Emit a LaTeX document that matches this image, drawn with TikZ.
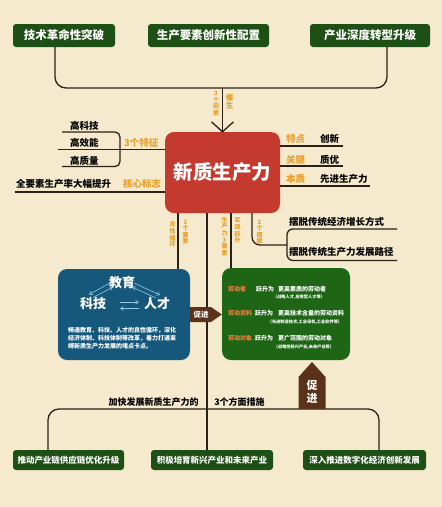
\documentclass[tikz,border=0pt]{standalone}
\usepackage{fontspec}
\setmainfont{Noto Sans CJK SC}
\usetikzlibrary{arrows.meta}
\definecolor{bg}{RGB}{245,234,205}
\definecolor{dgreen}{RGB}{30,80,22}
\definecolor{mgreen}{RGB}{30,102,22}
\definecolor{redbox}{RGB}{196,58,46}
\definecolor{bluebox}{RGB}{22,88,124}
\definecolor{lncol}{RGB}{42,33,24}
\definecolor{orng}{RGB}{232,160,42}
\definecolor{lorng}{RGB}{240,124,64}
\definecolor{brn}{RGB}{90,50,26}
\definecolor{lblue}{RGB}{150,200,230}
\begin{document}
\begin{tikzpicture}[x=1pt,y=-1pt,
  ln/.style={draw=lncol, line width=1.3pt},
  gbox/.style={fill=dgreen, rounded corners=3pt, text=white, inner sep=0,
    font=\bfseries\fontsize{11.5}{12}\selectfont, minimum height=23pt},
  bbox/.style={fill=dgreen, rounded corners=3pt, text=white, inner sep=0,
    font=\bfseries\fontsize{8.5}{9}\selectfont, minimum height=20pt},
  blk/.style={font=\bfseries\fontsize{9.5}{10}\selectfont, text=black, inner sep=0, anchor=west},
  org/.style={font=\bfseries\fontsize{9.5}{10}\selectfont, text=orng, inner sep=0, anchor=west},
  vlab/.style={font=\bfseries\fontsize{6}{6.6}\selectfont, text=orng, inner sep=0, align=center},
  wl/.style={font=\bfseries\fontsize{6}{7}\selectfont, text=white, inner sep=0, anchor=west},
  ol/.style={font=\bfseries\fontsize{6}{7}\selectfont, text=lorng, inner sep=0, anchor=west},
  sub/.style={font=\bfseries\fontsize{4.2}{5}\selectfont, text=white, inner sep=0},
  barr/.style={draw=lblue, line width=0.6pt, -{Straight Barb[length=3pt,width=4pt]}}
]
\useasboundingbox[fill=bg] (0,0) rectangle (442,507);

% top boxes
\node[gbox, minimum width=102pt] (t1) at (64,35.5) {技术革命性突破};
\node[gbox, minimum width=121pt] (t2) at (208.5,35.5) {生产要素创新性配置};
\node[gbox, minimum width=120pt] (t3) at (370,35.5) {产业深度转型升级};

% central node
\node[fill=redbox, rounded corners=9pt, minimum width=115pt, minimum height=81pt,
  text=white, font=\bfseries\fontsize{19.5}{20}\selectfont, inner sep=0] (red) at (222.5,172.5) {新质生产力};

% top bracket and arrow
\coordinate (bar) at (222.5,88);
\draw[ln, rounded corners=11pt] ([xshift=-9pt]t1.south) |- (bar) -| ([xshift=17pt]t3.south);
\draw[ln] (bar) -- (red.north);
\draw[ln] ([shift={(-11,-10)}]red.north) -- (red.north) -- ([shift={(11,-10)}]red.north);
\node[vlab] (yinsu) at (216,103.5) {3\\个\\因\\素};
\node[vlab, font=\bfseries\fontsize{7.5}{8.5}\selectfont] (cuisheng) at (229.5,101.5) {催\\生};

% left features
\node[blk] (gkj) at (70,126) {高科技};
\node[blk] (gxn) at (70,143) {高效能};
\node[blk] (gzl) at (70,161) {高质量};
\node[org] (tz3) at (124,143) {3个特征};
\draw[ln, rounded corners=5pt] (62,132) -| (120,166.5) -- (62,166.5);
\coordinate (l1) at (58,149.5);
\draw[ln] (l1) -- (l1 -| red.west);
\node[blk] (qys) at (16,184) {全要素生产率大幅提升};
\node[org] (hxbz) at (123,184) {核心标志};
\coordinate (l2) at (15,192);
\draw[ln] (l2) -- (l2 -| red.west);

% right features
\node[org] (td) at (286,139) {特点};
\node[blk] (cx) at (320,139) {创新};
\node[org] (gj) at (286,160) {关键};
\node[blk] (zy) at (320,160) {质优};
\node[org] (bz) at (286,179) {本质};
\node[blk] (xj) at (320,179) {先进生产力};
\coordinate (r1) at (343,146);
\coordinate (r2) at (343,166);
\coordinate (r3) at (370,186);
\draw[ln] (r1 -| red.east) -- (r1);
\draw[ln] (r2 -| red.east) -- (r2);
\draw[ln] (r3 -| red.east) -- (r3);

% blue and green boxes
\node[fill=bluebox, rounded corners=9pt, minimum width=132pt, minimum height=91pt, inner sep=0] (blue) at (124,314.5) {};
\node[fill=mgreen, rounded corners=9pt, minimum width=128pt, minimum height=92pt, inner sep=0] (green) at (286,314) {};

% bottom boxes
\node[bbox, minimum width=111pt] (b1) at (68.5,460) {推动产业链供应链优化升级};
\node[bbox, minimum width=122pt] (b2) at (212,460) {积极培育新兴产业和未来产业};
\node[bbox, minimum width=123pt] (b3) at (364.5,460) {深入推进数字化经济创新发展};

% lines below red
\coordinate (v1) at (178,0);
\coordinate (v2) at (207,0);
\coordinate (v3) at (231,0);
\coordinate (v4) at (252,0);
\coordinate (brk) at (287,245);
\draw[ln] (v1 |- red.south) -- (v1 |- blue.north);
\draw[ln] (v2 |- red.south) -- (v2 |- b2.north);
\draw[ln] (v3 |- red.south) -- (v3 |- green.north);
\draw[ln, rounded corners=8pt] (v4 |- red.south) |- (brk);
\draw[ln, rounded corners=6pt] (397,229) -| (287,260.5) -- (397,260.5);
\node[blk] (bt1) at (289,222) {摆脱传统经济增长方式};
\node[blk] (bt2) at (289,252) {摆脱传统生产力发展路径};
\node[vlab] (lxxh) at (172.5,234.5) {良\\性\\循\\环};
\node[vlab] (sgys) at (185.5,232) {3\\个\\要\\素};
\node[vlab] (scl) at (224.5,236.5) {生\\产\\力\\3\\要\\素};
\node[vlab] (sxys) at (237.5,230.5) {实\\现\\跃\\升};
\node[vlab] (lgbt) at (259.5,232) {2\\个\\摆\\脱};

% blue box content
\node[font=\bfseries\fontsize{13}{14}\selectfont, text=white, inner sep=0] (jy) at (122,282) {教育};
\node[font=\bfseries\fontsize{13}{14}\selectfont, text=white, inner sep=0] (kj) at (93,304) {科技};
\node[font=\bfseries\fontsize{13}{14}\selectfont, text=white, inner sep=0] (rc) at (157,304) {人才};
\draw[barr] (110,283) -- (89,294.5);
\draw[barr] (93,297.5) -- (113,287);
\draw[barr] (134,283) -- (160,295);
\draw[barr] (156,298) -- (132,287);
\draw[barr] (120,302) -- (139,302);
\draw[barr] (139,308.5) -- (120,308.5);
\node[font=\bfseries\fontsize{6}{8}\selectfont, text=white, inner sep=0, align=left, anchor=north west] (btxt) at (68,327)
  {畅通教育、科技、人才的良性循环，深化\\经济体制、科技体制等改革，着力打通束\\缚新质生产力发展的堵点卡点。};

% green box content
\node[ol] (ldz) at (228,289) {劳动者};
\node[wl] (ys1) at (256,289) {跃升为};
\node[wl] (gd1) at (278,289) {更高素质的劳动者};
\node[sub] (s1) at (299,297.5) {（战略人才,应用型人才等）};
\node[ol] (ldzl) at (228,313) {劳动资料};
\node[wl] (ys2) at (255,313) {跃升为};
\node[wl] (gd2) at (278,313) {更高技术含量的劳动资料};
\node[sub] (s2) at (305,322) {（先进制造技术,工业母机,工业软件等）};
\node[ol] (lddx) at (228,338) {劳动对象};
\node[wl] (ys3) at (255,338) {跃升为};
\node[wl] (gd3) at (278,338) {更广范围的劳动对象};
\node[sub] (s3) at (304,347) {（战略性新兴产业,未来产业等）};

% side promote arrow
\fill[brn] (blue.east |- 0,307) -- (211,307) -- (green.west |- 0,314.5) -- (211,322) -- (blue.east |- 0,322) -- cycle;
\node[font=\bfseries\fontsize{7.5}{8}\selectfont, text=white, inner sep=0] (cj1) at (201,314.5) {促进};

% bottom bracket
\coordinate (hb) at (207,409);
\draw[ln, rounded corners=11pt] ([xshift=-20.5pt]b1.north) |- (hb) -| ([xshift=14.5pt]b3.north);
\node[font=\bfseries\fontsize{9}{10}\selectfont, inner sep=0] (jk) at (153.5,402.5) {加快发展新质生产力的};
\node[font=\bfseries\fontsize{9}{10}\selectfont, inner sep=0] (fm) at (239.5,402.5) {3个方面措施};

% bottom promote arrow
\fill[brn] (298.5,409) -- (298.5,377) -- (312,362) -- (325.5,377) -- (325.5,409) -- cycle;
\node[font=\bfseries\fontsize{11}{13}\selectfont, text=white, inner sep=0, align=center] (cj2) at (312,392) {促\\进};
\end{tikzpicture}
\end{document}
